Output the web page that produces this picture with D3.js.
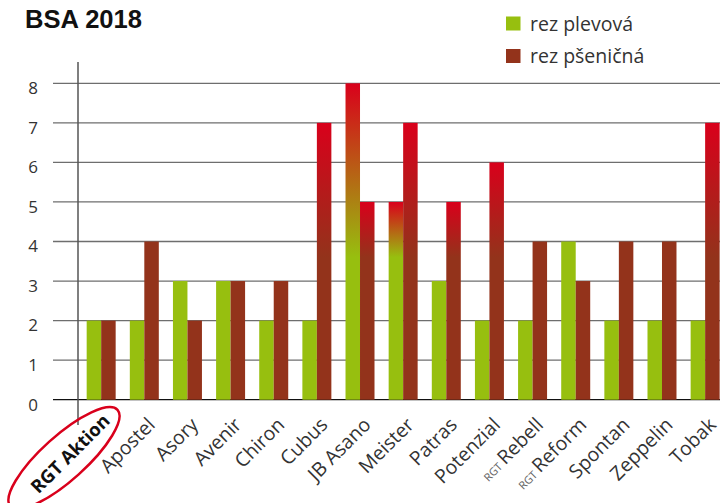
<!DOCTYPE html>
<html><head><meta charset="utf-8">
<script src="https://cdn.jsdelivr.net/npm/d3@7"></script>
<style>
html,body{margin:0;padding:0;background:#fff;overflow:hidden}
svg{display:block}
</style></head>
<body>
<script>
const categories = ["RGT Aktion","Apostel","Asory","Avenir","Chiron","Cubus","JB Asano","Meister","Patras","Potenzial","RGT Rebell","RGT Reform","Spontan","Zeppelin","Tobak"];
const plevova   = [2,2,3,3,2,2,8,5,3,2,2,4,2,2,2];
const psenicna  = [2,4,2,3,3,7,5,7,5,6,4,3,4,4,7];
const seriesNames = ["rez plevová","rez pšeničná"];
const yTicks = [0,1,2,3,4,5,6,7,8];
const highlightValue = 5;     // bars from this value get the red gradient
const gradientEndValue = 3.6; // gradient fades into base colour here

const W = 720, H = 503;
const colors = ["#97bf0f","#93331b"];
const red = "#d9001b";
const font = "'Open Sans', 'Noto Sans', sans-serif";

const svg = d3.select("body").append("svg").attr("width",W).attr("height",H);
const defs = svg.append("defs");

const x = d3.scaleBand().domain(categories).range([79.6, 79.6 + 15*43.14]).paddingInner(0.328).paddingOuter(0.164);
const xs = d3.scaleBand().domain([0,1]).range([0, x.bandwidth()]);
const y = d3.scaleLinear().domain([0,8]).range([399.7, 83.3]);

// title
svg.append("text").attr("x",25).attr("y",28).attr("font-family","'Liberation Sans', Arial, sans-serif")
  .attr("font-weight","bold").attr("font-size",26).attr("fill","#111")
  .attr("textLength",117).attr("lengthAdjust","spacingAndGlyphs").text("BSA 2018");

// gridlines
svg.append("g").selectAll("line").data(yTicks).join("line")
  .attr("x1",53).attr("x2",W).attr("y1",d=>y(d)).attr("y2",d=>y(d))
  .attr("stroke",d=>d===0?"#111":"#6e6e6e").attr("stroke-width",1.3);

// y tick labels
svg.append("g").selectAll("text").data(yTicks).join("text")
  .attr("x",38).attr("y",d=>y(d)+10.8).attr("text-anchor","end")
  .attr("font-family",font).attr("font-size",17).attr("fill","#333").text(d=>d);

// bars
const data = categories.map((c,i)=>({c, vals:[plevova[i], psenicna[i]]}));
let gid = 0;
const g = svg.append("g");
data.forEach(d=>{
  d.vals.forEach((v,s)=>{
    let fill = colors[s];
    if (v >= highlightValue) {
      const id = "gr"+(gid++);
      const lg = defs.append("linearGradient").attr("id",id).attr("gradientUnits","userSpaceOnUse")
        .attr("x1",0).attr("x2",0).attr("y1",y(v)).attr("y2",y(gradientEndValue));
      lg.append("stop").attr("offset",0).attr("stop-color",red);
      lg.append("stop").attr("offset",1).attr("stop-color",colors[s]);
      fill = `url(#${id})`;
    }
    g.append("rect").attr("x",x(d.c)+xs(s)).attr("width",xs.bandwidth())
      .attr("y",y(v)).attr("height",y(0)-y(v)).attr("fill",fill);
  });
});

// y axis line
svg.append("line").attr("x1",78).attr("x2",78).attr("y1",62).attr("y2",425)
  .attr("stroke","#555").attr("stroke-width",1.5);

// x labels
const lab = svg.append("g");
categories.forEach((c,i)=>{
  const cx = x(c) + x.bandwidth()/2 + (i===0 ? 10 : 12);
  const cy = i===0 ? 422 : 426;
  const t = lab.append("text").attr("transform",`translate(${cx},${cy}) rotate(-45)`)
    .attr("text-anchor","end").attr("font-family",font).attr("font-size",19.5).attr("fill","#333");
  if (i===0) {
    t.attr("font-weight","bold").attr("fill","#111").attr("font-size",18.5).text(c);
  } else if (c.startsWith("RGT ")) {
    t.append("tspan").attr("font-size",11).attr("fill","#666").text("RGT ");
    t.append("tspan").text(c.slice(4));
  } else t.text(c);
});

// highlight ellipse
svg.append("ellipse").attr("transform","translate(64,458) rotate(-42)")
  .attr("rx",72).attr("ry",22).attr("fill","none").attr("stroke",red).attr("stroke-width",2.5);

// legend
const leg = svg.append("g");
seriesNames.forEach((n,i)=>{
  leg.append("rect").attr("x",506).attr("y",16.5+i*32.5).attr("width",14.5).attr("height",14)
    .attr("fill",colors[i]);
  leg.append("text").attr("x",530).attr("y",30.5+i*32.5).attr("font-family",font)
    .attr("font-size",19.5).attr("fill","#333").text(n);
});
</script>
</body></html>
